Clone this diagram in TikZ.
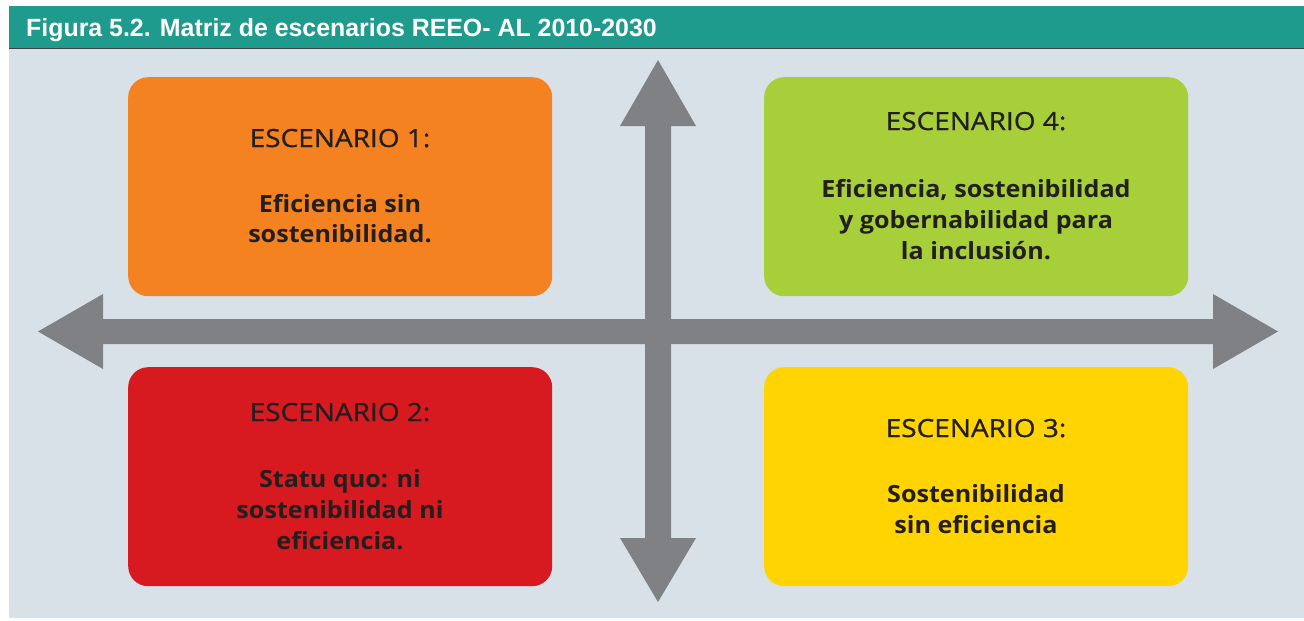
\documentclass[tikz,border=0pt]{standalone}
\usepackage{fontspec}
\setmainfont{Open Sans}[Ligatures=NoCommon]
\newfontfamily\headfont{Open Sans}[FakeStretch=1.12, FakeBold=0.8]
\newfontfamily\bodyfont{Open Sans}[FakeStretch=1.06, Ligatures=NoCommon]
\newfontfamily\titlefont{Liberation Sans}
\definecolor{teal1}{HTML}{1F9B8E}
\definecolor{bg1}{HTML}{D9E1E8}
\definecolor{orange1}{HTML}{F58220}
\definecolor{green1}{HTML}{A7CF3A}
\definecolor{red1}{HTML}{D71920}
\definecolor{yellow1}{HTML}{FFD400}
\definecolor{grey1}{HTML}{808184}
\definecolor{ink1}{HTML}{231F20}
\tikzset{
  box/.style={rounded corners=20pt, draw=none, inner sep=0pt, minimum width=424pt, minimum height=219pt, anchor=north west},
  headtxt/.style={anchor=base, inner sep=0pt, text=ink1, font=\headfont\fontsize{25}{30}\selectfont},
  bodytxt/.style={anchor=base, inner sep=0pt, text=ink1, font=\bodyfont\fontsize{23.7}{30}\selectfont\bfseries},
  titletxt/.style={anchor=base west, inner sep=0pt, text=white, font=\titlefont\bfseries\fontsize{24.9}{28}\selectfont},
  axis/.style={fill=grey1, draw=none}
}
\begin{document}
\begin{tikzpicture}[x=1pt,y=-1pt]
\useasboundingbox (0,0) rectangle (1304,621);
\fill[white] (0,0) rectangle (1304,621);
% header
\fill[teal1] (9,6) rectangle (1304,48);
\fill[bg1] (9,49) rectangle (1304,618);
\draw[ink1!85, line width=1.2pt] (9,48.5) -- (1304,48.5);
\node[titletxt] (title) at (26,36) {Figura 5.2. Matriz de escenarios REEO- AL 2010-2030};
% boxes
\node[box, fill=orange1] (b1) at (128,77) {};
\node[box, fill=green1] (b4) at (764,77) {};
\node[box, fill=red1] (b2) at (128,367) {};
\node[box, fill=yellow1] (b3) at (764,367) {};
% axes
\fill[axis] (38,331.5) -- (103,294) -- (103,319) -- (1213,319) -- (1213,294) -- (1278,331.5)
  -- (1213,369) -- (1213,344) -- (103,344) -- (103,369) -- cycle;
\fill[axis] (658,60) -- (696,126) -- (671,126) -- (671,538) -- (696,538) -- (658,602)
  -- (620,538) -- (645,538) -- (645,126) -- (620,126) -- cycle;
% texts box 1
\node[headtxt] (h1) at (340,147) {ESCENARIO 1:};
\node[bodytxt] (t1a) at (340,212) {Eficiencia sin};
\node[bodytxt] (t1b) at (340,242) {sostenibilidad.};
% box 4
\node[headtxt] (h4) at (976,130) {ESCENARIO 4:};
\node[bodytxt] (t4a) at (976,197) {Eficiencia, sostenibilidad};
\node[bodytxt] (t4b) at (976,228) {y gobernabilidad para};
\node[bodytxt] (t4c) at (976,259) {la inclusión.};
% box 2
\node[headtxt] (h2) at (340,421) {ESCENARIO 2:};
\node[bodytxt] (t2a) at (340,487) {Statu quo: ni};
\node[bodytxt] (t2b) at (340,518) {sostenibilidad ni};
\node[bodytxt] (t2c) at (340,549) {eficiencia.};
% box 3
\node[headtxt] (h3) at (976,437) {ESCENARIO 3:};
\node[bodytxt] (t3a) at (976,502) {Sostenibilidad};
\node[bodytxt] (t3b) at (976,533) {sin eficiencia};
\end{tikzpicture}
\end{document}
